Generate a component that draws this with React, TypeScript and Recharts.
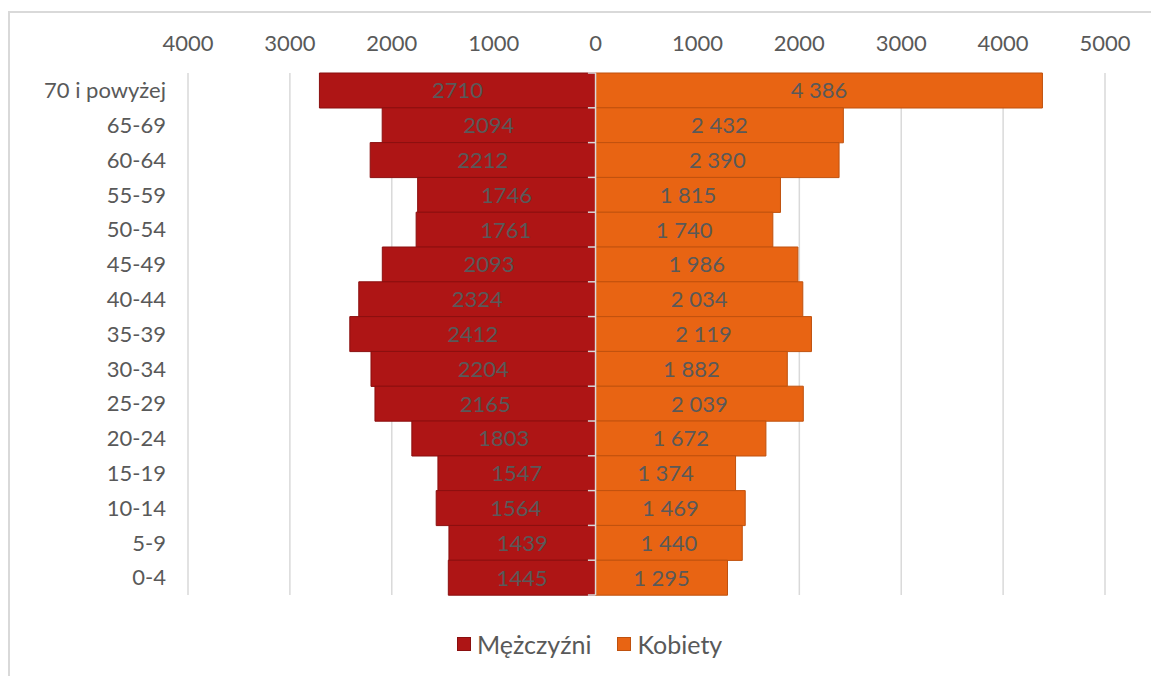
import { BarChart, Bar, XAxis, YAxis, CartesianGrid, LabelList, ReferenceLine } from 'recharts'

const ageGroups = [
  '70 i powyżej', '65-69', '60-64', '55-59', '50-54', '45-49', '40-44', '35-39',
  '30-34', '25-29', '20-24', '15-19', '10-14', '5-9', '0-4',
]
const men = [2710, 2094, 2212, 1746, 1761, 2093, 2324, 2412, 2204, 2165, 1803, 1547, 1564, 1439, 1445]
const women = [4386, 2432, 2390, 1815, 1740, 1986, 2034, 2119, 1882, 2039, 1672, 1374, 1469, 1440, 1295]
const xTicks = [-4000, -3000, -2000, -1000, 0, 1000, 2000, 3000, 4000, 5000]

const MEN_FILL = '#AE1515'
const MEN_STROKE = '#8A0F0F'
const WOMEN_FILL = '#E86413'
const WOMEN_STROKE = '#BF510E'
const TEXT = '#595959'
const FONT = 'Lato, "Open Sans", sans-serif'

const data = ageGroups.map((age, i) => ({ age, men: -men[i], women: women[i] }))

const withSpaces = (v: number) => String(Math.abs(v)).replace(/\B(?=(\d{3})+(?!\d))/g, ' ')

function PyramidLegend() {
  const items = [
    { label: 'Mężczyźni', fill: MEN_FILL, stroke: MEN_STROKE },
    { label: 'Kobiety', fill: WOMEN_FILL, stroke: WOMEN_STROKE },
  ]
  return (
    <div style={{ position: 'absolute', top: 629, left: 457, display: 'flex', gap: 26 }}>
      {items.map((it) => (
        <div key={it.label} style={{ display: 'flex', alignItems: 'center' }}>
          <span style={{ width: 12, height: 12, background: it.fill, border: `1px solid ${it.stroke}`, marginRight: 6 }} />
          <span style={{ fontSize: 25, color: TEXT }}>{it.label}</span>
        </div>
      ))}
    </div>
  )
}

export default function App() {
  return (
    <div style={{ position: 'relative', width: 1151, height: 676, overflow: 'hidden', fontFamily: FONT }}>
      <style>{'body{margin:0;overflow:hidden}'}</style>
      <div
        style={{
          position: 'absolute', left: 8, top: 11, width: 1143, height: 665,
          borderTop: '2px solid #d9d9d9', borderLeft: '2px solid #d9d9d9', boxSizing: 'border-box',
        }}
      />
      <div style={{ position: 'absolute', left: 8, top: 8 }}>
        <BarChart
          width={1143}
          height={660}
          data={data}
          layout="vertical"
          stackOffset="sign"
          barCategoryGap={0}
          margin={{ top: 0, right: 46, bottom: 73, left: 0 }}
        >
          <CartesianGrid horizontal={false} stroke="#d9d9d9" strokeWidth={1.5} />
          <XAxis
            type="number"
            orientation="top"
            domain={[-4000, 5000]}
            ticks={xTicks}
            tickFormatter={(v: number) => String(Math.abs(v))}
            axisLine={false}
            tickLine={false}
            height={65}
            tickMargin={16}
            tick={{ fill: TEXT, fontSize: 22 }}
            interval={0}
          />
          <YAxis
            type="category"
            dataKey="age"
            width={180}
            axisLine={false}
            tickLine={false}
            tickMargin={16}
            tick={{ fill: TEXT, fontSize: 22 }}
            interval={0}
          />
          <Bar dataKey="men" stackId="a" fill={MEN_FILL} stroke={MEN_STROKE} strokeWidth={1} isAnimationActive={false}>
            <LabelList dataKey="men" position="center" formatter={(v: number) => String(Math.abs(v))} fill={TEXT} fontSize={22} />
          </Bar>
          <Bar dataKey="women" stackId="a" fill={WOMEN_FILL} stroke={WOMEN_STROKE} strokeWidth={1} isAnimationActive={false}>
            <LabelList dataKey="women" position="center" formatter={withSpaces} fill={TEXT} fontSize={22} />
          </Bar>
          <ReferenceLine x={0} stroke="#d9d9d9" strokeWidth={1.5} />
          {ageGroups.map((age) => (
            <ReferenceLine
              key={age}
              segment={[{ x: -75, y: age }, { x: 0, y: age }]}
              position="start"
              stroke="#d9d9d9"
              strokeWidth={1.5}
            />
          ))}
          <ReferenceLine
            segment={[{ x: -75, y: ageGroups[ageGroups.length - 1] }, { x: 0, y: ageGroups[ageGroups.length - 1] }]}
            position="end"
            stroke="#d9d9d9"
            strokeWidth={1.5}
          />
        </BarChart>
      </div>
      <PyramidLegend />
    </div>
  )
}
